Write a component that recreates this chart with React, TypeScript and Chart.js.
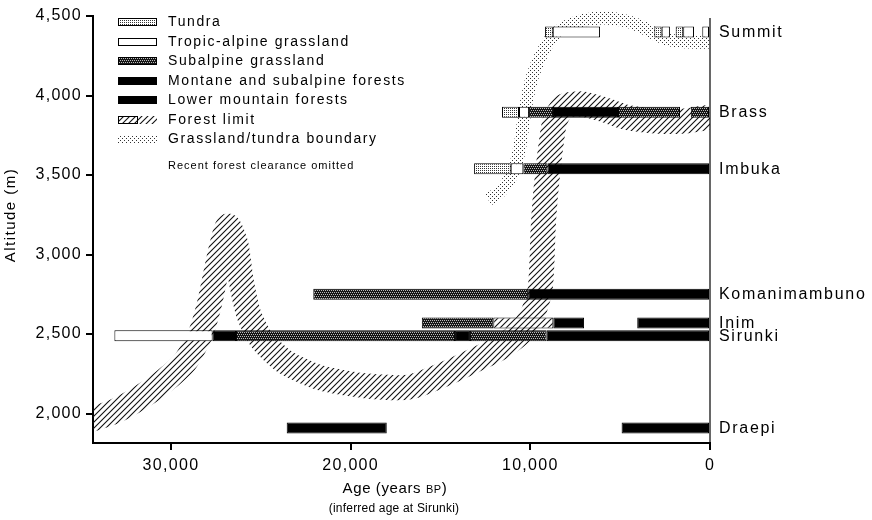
import React, { useEffect, useRef } from 'react';
import { Chart, registerables } from 'chart.js';

Chart.register(...registerables);

const FONT = 'Arial, "Liberation Sans", Helvetica, sans-serif';

// Sites (right-hand labels) and their altitudes (m)
const SITES = ['Summit', 'Brass', 'Imbuka', 'Komanimambuno', 'Inim', 'Sirunki', 'Draepi'];
const SITE_ALTITUDES = [4400, 3895, 3540, 2750, 2570, 2490, 1910];

// Vegetation records: [site index, older age, younger age] in years BP
const TUNDRA = [[0, 9180, 8750], [0, 3100, 2690], [0, 1910, 1490], [1, 11575, 10630], [2, 13130, 11090]];
const TROPIC_ALPINE = [[0, 8750, 6120], [0, 2690, 2230], [0, 1490, 890], [0, 430, 0], [1, 10630, 10070], [2, 11090, 10390], [5, 33150, 27680]];
const SUBALPINE = [[1, 10070, 8740], [1, 5120, 1670], [1, 1070, 0], [2, 10390, 9050], [3, 22080, 10120], [4, 16040, 12060], [5, 26380, 14190], [5, 13360, 9090]];
const MONTANE = [[1, 8740, 5120], [2, 9050, 0], [5, 27680, 26380]];
const LOWER = [[3, 10120, 0], [4, 8720, 7010], [4, 4050, 0], [5, 14190, 13360], [5, 9090, 0], [6, 23560, 17990], [6, 4920, 0]];
const FOREST_LIMIT_SITE = [[4, 12060, 8720]];

// Forest limit band (centre line)
const FOREST_LIMIT_AGE = [34500, 33110, 31720, 30440, 29220, 28380, 27880, 27490, 27160, 26820, 26380, 26100, 25660, 24930, 23650, 21700, 19200, 16700, 14580, 13080, 11690, 10570, 9850, 9460, 9350, 9290, 9180, 9015, 8850, 8630, 8125, 7120, 5840, 4730, 3060, 1390, 0];
const FOREST_LIMIT_ALT = [1960, 2015, 2100, 2200, 2325, 2495, 2680, 2890, 3060, 3180, 3060, 2840, 2620, 2460, 2325, 2225, 2175, 2167, 2258, 2337, 2412, 2506, 2632, 2777, 2965, 3154, 3343, 3531, 3689, 3840, 3934, 3947, 3909, 3865, 3840, 3840, 3865];

// Grassland/tundra boundary band (centre line)
const BOUNDARY_AGE = [12350, 11690, 11130, 10740, 10520, 10350, 10130, 9850, 9460, 8900, 8070, 6960, 5840, 4730, 3900, 3060, 2230, 1110, 0];
const BOUNDARY_ALT = [3345, 3395, 3480, 3595, 3720, 3865, 4005, 4130, 4240, 4350, 4430, 4475, 4487, 4470, 4437, 4387, 4350, 4336, 4336];

const X_TICKS = [0, 10000, 20000, 30000];
const Y_TICKS = [2000, 2500, 3000, 3500, 4000, 4500];

const LEGEND_LABELS = ['Tundra', 'Tropic-alpine grassland', 'Subalpine grassland', 'Montane and subalpine forests', 'Lower mountain forests', 'Forest limit', 'Grassland/tundra boundary'];
const LEGEND_NOTE = 'Recent forest clearance omitted';

function makePattern(w: number, h: number, draw: (g: CanvasRenderingContext2D) => void) {
  const c = document.createElement('canvas');
  c.width = w;
  c.height = h;
  const g = c.getContext('2d') as CanvasRenderingContext2D;
  draw(g);
  return g.createPattern(c, 'repeat') as CanvasPattern;
}

function dotPattern(bg: string | null, fg: string, pts: number[][]) {
  return makePattern(4, 4, (g) => {
    if (bg) { g.fillStyle = bg; g.fillRect(0, 0, 4, 4); }
    g.fillStyle = fg;
    pts.forEach(([x, y]) => g.fillRect(x, y, 1, 1));
  });
}

function hatchPattern(bg: string | null) {
  return makePattern(6, 6, (g) => {
    if (bg) { g.fillStyle = bg; g.fillRect(0, 0, 6, 6); }
    g.strokeStyle = '#111';
    g.lineWidth = 1.1;
    g.beginPath();
    g.moveTo(-1, 7); g.lineTo(7, -1);
    g.moveTo(-1, 1); g.lineTo(1, -1);
    g.moveTo(5, 7); g.lineTo(7, 5);
    g.stroke();
  });
}

const seg = (arr: number[][]) => arr.map(([s, a, b]) => ({ y: SITE_ALTITUDES[s], x: [a, b] }));
const pts = (ages: number[], alts: number[]) => ages.map((a, i) => ({ x: a, y: alts[i] }));

export default function App() {
  const ref = useRef<HTMLCanvasElement>(null);

  useEffect(() => {
    const canvas = ref.current;
    if (!canvas) return;

    const P = {
      tundra: dotPattern('#fff', '#333', [[0, 0], [2, 0], [0, 2], [2, 2]]),
      subalpine: dotPattern('#151515', '#bbb', [[0, 0], [2, 0], [1, 2], [3, 2]]),
      boundary: dotPattern(null, '#333', [[0, 0], [2, 2]]),
      hatchBand: hatchPattern(null),
      hatchBox: hatchPattern('#fff'),
    };

    const barBase = {
      type: 'bar' as const,
      indexAxis: 'y' as const,
      borderColor: '#000',
      borderWidth: 1,
      borderSkipped: false,
      barThickness: 11,
      maxBarThickness: 11,
      grouped: false,
      inflateAmount: 0,
      order: 0,
    };

    const annot = {
      id: 'annot',
      beforeDraw(chart: any) {
        chart.ctx.letterSpacing = '1.3px';
      },
      afterDraw(chart: any) {
        const ctx = chart.ctx as CanvasRenderingContext2D;
        const area = chart.chartArea;
        const xs = chart.scales.x;
        const ys = chart.scales.y;
        ctx.save();
        // right-hand boundary at 0 BP
        const x0 = xs.getPixelForValue(0);
        ctx.strokeStyle = '#000';
        ctx.lineWidth = 1.2;
        ctx.beginPath();
        ctx.moveTo(x0, area.top + 2);
        ctx.lineTo(x0, area.bottom);
        ctx.stroke();

        // site labels
        ctx.fillStyle = '#000';
        ctx.font = `16px ${FONT}`;
        (ctx as any).letterSpacing = '1.7px';
        ctx.textAlign = 'left';
        ctx.textBaseline = 'middle';
        SITES.forEach((s, i) => ctx.fillText(s, x0 + 9, ys.getPixelForValue(SITE_ALTITUDES[i]) + 0.5));

        // y title
        ctx.save();
        ctx.translate(11, 215);
        ctx.rotate(-Math.PI / 2);
        ctx.font = `15px ${FONT}`;
        (ctx as any).letterSpacing = '1.5px';
        ctx.textAlign = 'center';
        ctx.fillText('Altitude (m)', 0, 0);
        ctx.restore();

        // x title with small-caps BP
        ctx.textBaseline = 'alphabetic';
        ctx.textAlign = 'left';
        const parts: [string, number][] = [['Age (years ', 15], ['BP', 11], [')', 15]];
        let total = 0;
        const widths = parts.map(([t, sz]) => {
          ctx.font = `${sz}px ${FONT}`;
          (ctx as any).letterSpacing = '0.6px';
          const w = ctx.measureText(t).width;
          total += w;
          return w;
        });
        let tx = 395 - total / 2;
        parts.forEach(([t, sz], i) => {
          ctx.font = `${sz}px ${FONT}`;
          (ctx as any).letterSpacing = '0.6px';
          ctx.fillText(t, tx, 493);
          tx += widths[i];
        });
        ctx.font = `12px ${FONT}`;
        (ctx as any).letterSpacing = '0.2px';
        ctx.textAlign = 'center';
        ctx.fillText('(inferred age at Sirunki)', 394, 512);

        // legend
        const lx = area.left + 25;
        const ly = area.top + 6.2;
        const step = 19.55;
        const sw = 39;
        const sh = 8;
        ctx.lineWidth = 1;
        ctx.strokeStyle = '#000';
        LEGEND_LABELS.forEach((label, i) => {
          const cy = ly + i * step;
          const top = Math.round(cy - sh / 2);
          const box = (fill: any, stroke: boolean, x = lx, w = sw) => {
            ctx.fillStyle = fill;
            ctx.fillRect(x, top, w, sh);
            if (stroke) ctx.strokeRect(x + 0.5, top + 0.5, w - 1, sh - 1);
          };
          if (i === 0) box(P.tundra, true);
          else if (i === 1) box('#fff', true);
          else if (i === 2) box(P.subalpine, true);
          else if (i === 3 || i === 4) box('#000', true);
          else if (i === 5) { box(P.hatchBox, true, lx, 20); box(P.hatchBand, false, lx + 20, sw - 20); }
          else box(P.boundary, false);
          ctx.fillStyle = '#000';
          ctx.font = `14px ${FONT}`;
          (ctx as any).letterSpacing = '1.6px';
          ctx.textAlign = 'left';
          ctx.textBaseline = 'middle';
          ctx.fillText(label, lx + 50, cy);
        });
        ctx.font = `11px ${FONT}`;
        (ctx as any).letterSpacing = '1px';
        ctx.fillText(LEGEND_NOTE, lx + 50, ly + 7 * step + 6.7);

        ctx.restore();
        (ctx as any).letterSpacing = '0px';
      },
    };

    const chart = new Chart(canvas, {
      type: 'bar',
      data: {
        datasets: [
          { ...barBase, label: 'Tundra', data: seg(TUNDRA), backgroundColor: P.tundra },
          { ...barBase, label: 'Tropic-alpine grassland', data: seg(TROPIC_ALPINE), backgroundColor: '#fff' },
          { ...barBase, label: 'Subalpine grassland', data: seg(SUBALPINE), backgroundColor: P.subalpine },
          { ...barBase, label: 'Montane and subalpine forests', data: seg(MONTANE), backgroundColor: '#000' },
          { ...barBase, label: 'Lower mountain forests', data: seg(LOWER), backgroundColor: '#000' },
          { ...barBase, label: 'Forest limit', data: seg(FOREST_LIMIT_SITE), backgroundColor: P.hatchBox },
          {
            type: 'line', indexAxis: 'x', label: 'Forest limit band', data: pts(FOREST_LIMIT_AGE, FOREST_LIMIT_ALT),
            borderColor: P.hatchBand, borderWidth: 25, pointRadius: 0, tension: 0.22, fill: false,
            borderCapStyle: 'butt', borderJoinStyle: 'round', order: 2,
            clip: { left: 0, top: 0, right: 0, bottom: 0 },
          },
          {
            type: 'line', indexAxis: 'x', label: 'Grassland/tundra boundary', data: pts(BOUNDARY_AGE, BOUNDARY_ALT),
            borderColor: P.boundary, borderWidth: 13, pointRadius: 0, tension: 0.3, fill: false,
            borderCapStyle: 'butt', borderJoinStyle: 'round', order: 1,
            clip: { left: 0, top: 8, right: 0, bottom: 0 },
          },
        ] as any,
      },
      options: {
        responsive: false,
        animation: false,
        devicePixelRatio: 1,
        events: [],
        layout: { padding: { left: 0, top: 16, right: 162, bottom: 0 } },
        plugins: { legend: { display: false }, tooltip: { enabled: false } },
        scales: {
          x: {
            type: 'linear', reverse: true, min: 0, max: 34340, offset: false,
            afterBuildTicks: (s: any) => { s.ticks = X_TICKS.map((v) => ({ value: v })); },
            afterFit: (s: any) => { s.height = 77; },
            border: { display: true, color: '#000', width: 2 },
            grid: { display: true, drawOnChartArea: false, drawTicks: true, tickLength: 7, color: '#000', lineWidth: 2, offset: false },
            ticks: {
              color: '#000', font: { size: 16, family: FONT }, padding: 6, maxRotation: 0, autoSkip: false,
              callback: (v: any) => Number(v).toLocaleString('en-US'),
            },
          },
          y: {
            type: 'linear', min: 1815, max: 4500, offset: false,
            afterBuildTicks: (s: any) => { s.ticks = Y_TICKS.map((v) => ({ value: v })); },
            afterFit: (s: any) => { s.width = 93; },
            border: { display: true, color: '#000', width: 2 },
            grid: { display: true, drawOnChartArea: false, drawTicks: true, tickLength: 7, color: '#000', lineWidth: 2, offset: false },
            ticks: {
              color: '#000', font: { size: 16, family: FONT }, padding: 4, autoSkip: false,
              callback: (v: any) => Number(v).toLocaleString('en-US'),
            },
          },
        },
      } as any,
      plugins: [annot],
    });

    return () => chart.destroy();
  }, []);

  return (
    <div style={{ position: 'fixed', left: 0, top: 0, width: 872, height: 520, background: '#fff' }}>
      <canvas ref={ref} width={872} height={520} style={{ display: 'block', width: 872, height: 520 }} />
    </div>
  );
}
